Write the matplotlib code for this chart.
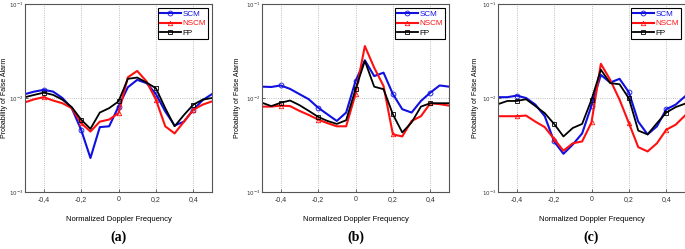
import matplotlib
matplotlib.use("Agg")
import matplotlib.pyplot as plt
from matplotlib.ticker import FixedLocator, FixedFormatter, NullLocator

# Doppler frequency grid
freq = [-0.5, -0.45, -0.4, -0.35, -0.3, -0.25, -0.2, -0.15, -0.1, -0.05, 0.0,
        0.05, 0.1, 0.15, 0.2, 0.25, 0.3, 0.35, 0.4, 0.45, 0.5]

# panel (a)
scm_a = [1.10e-2, 1.17e-2, 1.22e-2, 1.17e-2, 1.00e-2, 7.8e-3, 4.6e-3, 2.3e-3, 4.9e-3, 5.0e-3, 8.1e-3,
         1.30e-2, 1.56e-2, 1.44e-2, 1.10e-2, 7.2e-3, 5.1e-3, 5.6e-3, 7.5e-3, 9.5e-3, 1.10e-2]
nscm_a = [9.0e-3, 9.7e-3, 1.02e-2, 9.4e-3, 8.8e-3, 7.8e-3, 5.4e-3, 4.4e-3, 5.6e-3, 5.9e-3, 6.9e-3,
          1.66e-2, 1.94e-2, 1.50e-2, 9.6e-3, 5.0e-3, 4.2e-3, 5.6e-3, 7.5e-3, 8.5e-3, 9.2e-3]
fp_a = [1.02e-2, 1.08e-2, 1.14e-2, 1.08e-2, 9.6e-3, 8.0e-3, 5.9e-3, 4.7e-3, 7.0e-3, 7.8e-3, 9.2e-3,
        1.60e-2, 1.65e-2, 1.46e-2, 1.27e-2, 7.8e-3, 5.0e-3, 6.6e-3, 8.5e-3, 9.6e-3, 1.00e-2]

# panel (b)
scm_b = [1.32e-2, 1.31e-2, 1.36e-2, 1.25e-2, 1.10e-2, 9.7e-3, 7.9e-3, 6.7e-3, 5.7e-3, 7.0e-3, 1.51e-2,
         2.52e-2, 1.71e-2, 1.86e-2, 1.10e-2, 7.6e-3, 7.0e-3, 9.3e-3, 1.14e-2, 1.36e-2, 1.32e-2]
nscm_b = [8.1e-3, 8.1e-3, 8.3e-3, 8.2e-3, 7.3e-3, 6.6e-3, 5.9e-3, 5.4e-3, 5.0e-3, 5.0e-3, 1.10e-2,
          3.57e-2, 2.10e-2, 1.34e-2, 4.1e-3, 3.9e-3, 5.7e-3, 6.4e-3, 8.8e-3, 8.6e-3, 8.3e-3]
fp_b = [8.9e-3, 8.2e-3, 8.9e-3, 9.4e-3, 8.4e-3, 7.3e-3, 6.3e-3, 5.7e-3, 5.3e-3, 5.8e-3, 1.24e-2,
        2.48e-2, 1.32e-2, 1.24e-2, 6.7e-3, 4.3e-3, 5.5e-3, 8.1e-3, 8.8e-3, 8.8e-3, 8.8e-3]

# panel (c)
scm_c = [1.02e-2, 1.02e-2, 1.06e-2, 1.00e-2, 8.5e-3, 6.4e-3, 3.45e-3, 2.55e-3, 3.2e-3, 4.2e-3, 8.3e-3,
         1.76e-2, 1.46e-2, 1.60e-2, 1.15e-2, 5.6e-3, 4.1e-3, 5.0e-3, 7.6e-3, 8.5e-3, 1.04e-2]
nscm_c = [6.4e-3, 6.4e-3, 6.4e-3, 6.5e-3, 5.6e-3, 4.9e-3, 3.66e-3, 2.75e-3, 3.3e-3, 3.45e-3, 5.5e-3,
          2.31e-2, 1.56e-2, 9.6e-3, 5.4e-3, 3.0e-3, 2.7e-3, 3.3e-3, 4.6e-3, 5.2e-3, 6.5e-3]
fp_c = [8.6e-3, 9.3e-3, 9.3e-3, 9.7e-3, 8.2e-3, 6.9e-3, 5.3e-3, 3.9e-3, 4.8e-3, 5.3e-3, 9.6e-3,
        2.00e-2, 1.44e-2, 1.40e-2, 9.9e-3, 4.5e-3, 4.1e-3, 5.4e-3, 7.0e-3, 8.0e-3, 8.7e-3]

panels = [("(a)", scm_a, nscm_a, fp_a),
          ("(b)", scm_b, nscm_b, fp_b),
          ("(c)", scm_c, nscm_c, fp_c)]

xticks = [-0.4, -0.2, 0.0, 0.2, 0.4]
xticklabels = ["-0,4", "-0,2", "0", "0,2", "0,4"]
yticks = [1e-3, 1e-2, 1e-1]
yticklabels = [r"$10^{-3}$", r"$10^{-2}$", r"$10^{-1}$"]

plt.rcParams["font.family"] = ["Liberation Sans", "DejaVu Sans"]

fig = plt.figure(figsize=(6.85, 2.49), dpi=100)
lefts = [25 / 685, 262 / 685, 498 / 685]
ylab_x = [-0.092, -0.112, -0.10]
w = 187 / 685
b = 1 - 192 / 249
h = 188 / 249

for left, lx, (cap, scm, nscm, fp) in zip(lefts, ylab_x, panels):
    ax = fig.add_axes([left, b, w, h])
    mk = slice(2, None, 4)
    ax.plot(freq, scm, color="#1010e0", lw=1.5, marker="o", ms=3.5, mfc="none", mew=0.6,
            markevery=mk, label="SCM")
    ax.plot(freq, nscm, color="#ff1010", lw=1.5, marker="^", ms=3.2, mfc="none", mew=0.6,
            markevery=mk, label="NSCM")
    ax.plot(freq, fp, color="black", lw=1.3, marker="s", ms=3.5, mfc="none", mew=0.6,
            markevery=mk, label="FP")
    ax.set_yscale("log")
    ax.set_xlim(-0.5, 0.5)
    ax.set_ylim(1e-3, 1e-1)
    ax.xaxis.set_major_locator(FixedLocator(xticks))
    ax.xaxis.set_major_formatter(FixedFormatter(xticklabels))
    ax.yaxis.set_major_locator(FixedLocator(yticks))
    ax.yaxis.set_major_formatter(FixedFormatter(yticklabels))
    ax.yaxis.set_minor_locator(NullLocator())
    ax.tick_params(labelsize=5, length=2, width=0.5, direction="in", pad=3, colors="#333333")
    ax.tick_params(axis="y", labelsize=4, pad=1)
    ax.grid(True, linestyle=":", linewidth=0.6, color="#aaaaaa")
    for s in ax.spines.values():
        s.set_color("#555555")
        s.set_linewidth(0.8)
    ax.set_xlabel("Normalized Doppler Frequency", fontsize=5.5)
    ax.xaxis.set_label_coords(0.5, -0.13)
    ax.set_ylabel("Probability of False Alarm", fontsize=5)
    ax.yaxis.set_label_coords(lx, 0.5)
    leg = ax.legend(loc="upper right", fontsize=5.8, handlelength=2.6, borderpad=0.25,
                    labelspacing=0.25, handletextpad=0.2, fancybox=False,
                    framealpha=1, edgecolor="black", borderaxespad=0.5)
    leg.get_frame().set_linewidth(0.8)
    for t, c in zip(leg.get_texts(), ["#1010e0", "#ff1010", "black"]):
        t.set_color(c)
    fig.text(left + w / 2, 1 - 237 / 249, cap, ha="center", va="center",
             fontsize=10, fontweight="bold", family="Liberation Serif")

fig.savefig("out.png", dpi=100)
